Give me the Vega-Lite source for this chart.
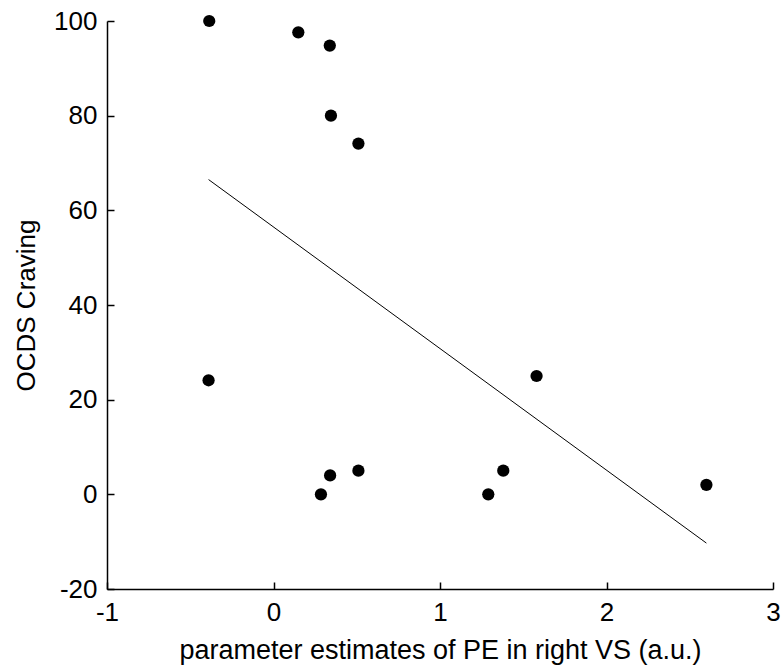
{
  "$schema": "https://vega.github.io/schema/vega-lite/v6.json",
  "width": 666,
  "height": 568,
  "autosize": "none",
  "padding": {"left": 107, "top": 21, "right": 8, "bottom": 80},
  "background": "white",
  "config": {
    "view": {"stroke": null},
    "axis": {
      "domainColor": "black",
      "domainWidth": 1.5,
      "tickColor": "black",
      "tickWidth": 1.5,
      "tickSize": -7,
      "grid": false,
      "labelFont": "Liberation Sans",
      "labelFontSize": 26,
      "labelColor": "black",
      "titleFont": "Liberation Sans",
      "titleFontWeight": "normal",
      "titleColor": "black"
    }
  },
  "layer": [
    {
      "data": {"values": [
        {"pe": -0.386, "craving": 100},
        {"pe": 0.149, "craving": 97.6},
        {"pe": 0.338, "craving": 94.8},
        {"pe": 0.345, "craving": 80},
        {"pe": 0.51, "craving": 74.1},
        {"pe": -0.39, "craving": 24.1},
        {"pe": 0.285, "craving": 0},
        {"pe": 0.34, "craving": 4},
        {"pe": 0.51, "craving": 5},
        {"pe": 1.29, "craving": 0},
        {"pe": 1.38, "craving": 5},
        {"pe": 1.58, "craving": 25},
        {"pe": 2.6, "craving": 2}
      ]},
      "mark": {"type": "circle", "size": 150, "color": "black", "opacity": 1},
      "encoding": {
        "x": {"field": "pe", "type": "quantitative",
              "scale": {"domain": [-1, 3], "nice": false, "zero": false},
              "axis": {"values": [-1, 0, 1, 2, 3], "labelExpr": "toString(datum.value)", "title": "parameter estimates of PE in right VS (a.u.)", "titleFontSize": 27, "labelPadding": 17, "titlePadding": 12, "labelFlush": false, "labelOverlap": false}},
        "y": {"field": "craving", "type": "quantitative",
              "scale": {"domain": [-20, 100], "nice": false, "zero": false},
              "axis": {"values": [-20, 0, 20, 40, 60, 80, 100], "labelExpr": "toString(datum.value)", "title": "OCDS Craving", "titleFontSize": 26, "labelPadding": 17, "titlePadding": 14, "labelFlush": false, "labelOverlap": false}}
      }
    },
    {
      "data": {"values": [
        {"pe": -0.39, "craving": 66.5},
        {"pe": 2.6, "craving": -10.3}
      ]},
      "mark": {"type": "line", "color": "black", "strokeWidth": 1},
      "encoding": {
        "x": {"field": "pe", "type": "quantitative"},
        "y": {"field": "craving", "type": "quantitative"}
      }
    }
  ]
}
